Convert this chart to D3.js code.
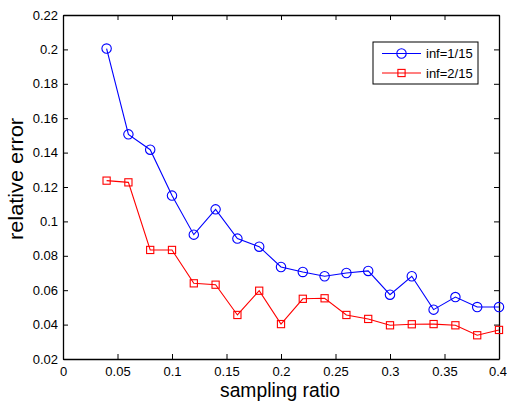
<!DOCTYPE html>
<html lang="en">
<head>
  <meta charset="UTF-8">
  <title>Relative error vs sampling ratio</title>
  <script src="https://d3js.org/d3.v7.min.js"></script>
  <style>
    body { margin: 0; background: #fff; }
    text { font-family: "Liberation Sans", Arial, sans-serif; fill: #000; }
    .tick-label { font-size: 13px; }
    .axis-label { font-size: 19.3px; }
  </style>
</head>
<body>
  <div id="chart"></div>

  <script>
    // Data
    const ratios = [0.04, 0.06, 0.08, 0.10, 0.12, 0.14, 0.16, 0.18, 0.20, 0.22,
                    0.24, 0.26, 0.28, 0.30, 0.32, 0.34, 0.36, 0.38, 0.40];
    const errInf1 = [0.2005, 0.1506, 0.1417, 0.1150, 0.0923, 0.1070, 0.0900, 0.0853, 0.0735, 0.0706,
                     0.0681, 0.0700, 0.0712, 0.0574, 0.0681, 0.0487, 0.0560, 0.0502, 0.0502];
    const errInf2 = [0.1237, 0.1227, 0.0834, 0.0834, 0.0640, 0.0632, 0.0456, 0.0597, 0.0403, 0.0550,
                     0.0553, 0.0456, 0.0433, 0.0396, 0.0402, 0.0403, 0.0396, 0.0338, 0.0369];
    const xTicks = [0, 0.05, 0.1, 0.15, 0.2, 0.25, 0.3, 0.35, 0.4];
    const yTicks = [0.02, 0.04, 0.06, 0.08, 0.1, 0.12, 0.14, 0.16, 0.18, 0.2, 0.22];
    const seriesNames = ["inf=1/15", "inf=2/15"];

    const W = 507, H = 402;
    const margin = { top: 15, right: 8, bottom: 43, left: 63 };
    const width = W - margin.left - margin.right;
    const height = H - margin.top - margin.bottom;

    const svg = d3.select("#chart").append("svg")
      .attr("width", W).attr("height", H);
    const g = svg.append("g")
      .attr("transform", "translate(" + margin.left + "," + margin.top + ")");

    const x = d3.scaleLinear().domain([0, 0.4]).range([0, width]);
    const y = d3.scaleLinear().domain([0.02, 0.22]).range([height, 0]);

    const fmt = d => String(+d.toFixed(2));
    const tk = 5;

    // axes box with inward ticks (matlab style)
    const xAxisG = g.append("g").attr("transform", "translate(0," + height + ")")
      .call(d3.axisBottom(x).tickValues(xTicks).tickFormat(fmt).tickSizeInner(-tk).tickSizeOuter(0).tickPadding(8));
    g.append("g")
      .call(d3.axisLeft(y).tickValues(yTicks).tickFormat(fmt).tickSizeInner(-tk).tickSizeOuter(0).tickPadding(5));
    g.append("g")
      .call(d3.axisTop(x).tickValues(xTicks).tickFormat("").tickSizeInner(-tk).tickSizeOuter(0));
    g.append("g").attr("transform", "translate(" + width + ",0)")
      .call(d3.axisRight(y).tickValues(yTicks).tickFormat("").tickSizeInner(-tk).tickSizeOuter(0));

    g.selectAll(".domain").attr("stroke", "#000").attr("stroke-width", 1.3);
    g.selectAll(".tick line").attr("stroke", "#000");
    g.selectAll(".tick text").attr("class", "tick-label").attr("font-size", null).attr("font-family", null);
    // last x label sits at the page edge; keep it inside
    xAxisG.selectAll(".tick:last-of-type text").attr("text-anchor", "end").attr("x", 7.5);

    // series
    const series = [
      { name: seriesNames[0], values: errInf1, color: "#0000ff", marker: "circle" },
      { name: seriesNames[1], values: errInf2, color: "#ff0000", marker: "square" }
    ];

    const line = d3.line().x((d, i) => x(ratios[i])).y(d => y(d));

    function drawMarker(sel, type, color) {
      if (type === "circle") {
        sel.append("circle").attr("r", 4.7)
          .attr("fill", "none").attr("stroke", color).attr("stroke-width", 1.1);
      } else {
        sel.append("rect").attr("x", -3.6).attr("y", -3.6).attr("width", 7.2).attr("height", 7.2)
          .attr("fill", "none").attr("stroke", color).attr("stroke-width", 1.1);
      }
    }

    series.forEach(s => {
      g.append("path").datum(s.values)
        .attr("d", line)
        .attr("fill", "none")
        .attr("stroke", s.color)
        .attr("stroke-width", 1.1);
      g.selectAll(null).data(s.values).enter().append("g")
        .attr("transform", (d, i) => "translate(" + x(ratios[i]) + "," + y(d) + ")")
        .each(function () { drawMarker(d3.select(this), s.marker, s.color); });
    });

    // legend
    const lg = svg.append("g").attr("transform", "translate(373,42)");
    lg.append("rect").attr("width", 105).attr("height", 42)
      .attr("fill", "#fff").attr("stroke", "#000").attr("stroke-width", 1);
    series.forEach((s, i) => {
      const ly = 11.5 + i * 19.5;
      lg.append("line").attr("x1", 9).attr("x2", 48).attr("y1", ly).attr("y2", ly)
        .attr("stroke", s.color).attr("stroke-width", 1.1);
      const m = lg.append("g").attr("transform", "translate(28.5," + ly + ")");
      drawMarker(m, s.marker, s.color);
      lg.append("text").attr("class", "tick-label")
        .attr("x", 53).attr("y", ly + 4.7).text(s.name);
    });

    // axis labels
    svg.append("text").attr("class", "axis-label")
      .attr("x", 280).attr("y", 396.5)
      .attr("text-anchor", "middle").text("sampling ratio");
    svg.append("text")
      .attr("transform", "rotate(-90)")
      .attr("x", -179).attr("y", 23)
      .attr("text-anchor", "middle")
      .attr("font-size", 20)
      .attr("textLength", 122)
      .attr("lengthAdjust", "spacingAndGlyphs")
      .text("relative error");
  </script>
</body>
</html>
